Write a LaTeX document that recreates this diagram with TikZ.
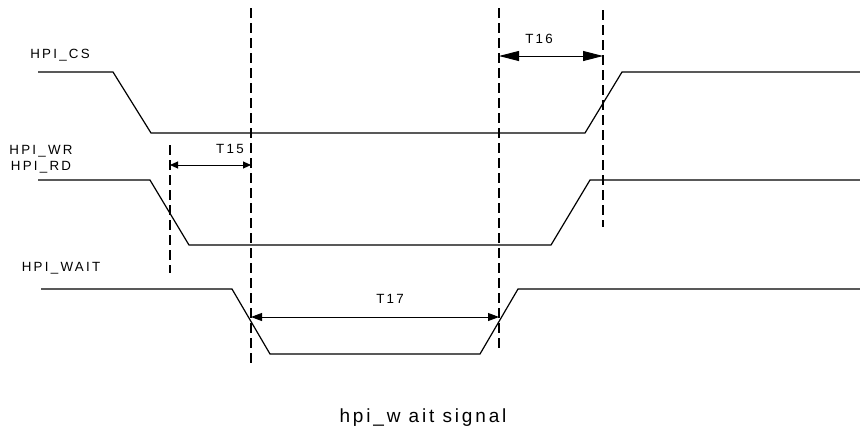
\documentclass[tikz,border=0pt]{standalone}
\usepackage{fontspec}
\newfontfamily\wavefont[LetterSpace=17]{Liberation Sans}
\newfontfamily\capfont[LetterSpace=15]{Liberation Sans}
\usetikzlibrary{arrows.meta}

\tikzset{
	sig/.style={line width=0.9pt},
	guide/.style={line width=1.4pt, dash pattern=on 7.5pt off 3.75pt},
	dim/.style={line width=0.7pt},
	lbl/.style={anchor=base, inner sep=0pt, font=\wavefont\fontsize{10}{12}\selectfont},
}

\begin{document}
\begin{tikzpicture}[x=0.75pt, y=-0.75pt]
	\useasboundingbox (0,0) rectangle (860,429);
	\draw[guide] (170,145) -- (170,273);
	\draw[guide] (251,8) -- (251,368);
	\draw[guide] (499,8) -- (499,352);
	\draw[guide] (603,10) -- (603,227);
	\draw[sig] (38,72) -- (113,72) -- (151,133) -- (585,133) -- (622,72) -- (860,72);
	\draw[sig] (38,180) -- (150,180) -- (189,245) -- (551,245) -- (590,180) -- (860,180);
	\draw[sig] (41,289) -- (232,289) -- (270,354) -- (480,354) -- (518,289) -- (860,289);
	\coordinate (t15a) at (170,165);
	\coordinate (t15b) at (251,165);
	\coordinate (t16a) at (499,56);
	\coordinate (t16b) at (603,56);
	\coordinate (t17a) at (251,317);
	\coordinate (t17b) at (499,317);
	\draw[dim, {Triangle[length=6pt,width=5.25pt]}-{Triangle[length=6pt,width=5.25pt]}] (t15a) -- (t15b);
	\draw[dim, {Triangle[length=15pt,width=7.5pt]}-{Triangle[length=15pt,width=7.5pt]}] (t16a) -- (t16b);
	\draw[dim, {Triangle[length=8.25pt,width=6pt]}-{Triangle[length=8.25pt,width=6pt]}] (t17a) -- (t17b);
	\node[lbl] (cs) at (60,58) {HPI\_CS};
	\node[lbl] (wr) at (41,154) {HPI\_WR};
	\node[lbl] (rd) at (41,170) {HPI\_RD};
	\node[lbl] (wait) at (61,271) {HPI\_WAIT};
	\node[lbl] (l15) at (230,153) {T15};
	\node[lbl] (l16) at (539,43) {T16};
	\node[lbl] (l17) at (390,303) {T17};
	\node[lbl, font=\capfont\fontsize{14.25}{17}\selectfont] (cap) at (423,422) {hpi\_w ait signal};
\end{tikzpicture}
\end{document}
